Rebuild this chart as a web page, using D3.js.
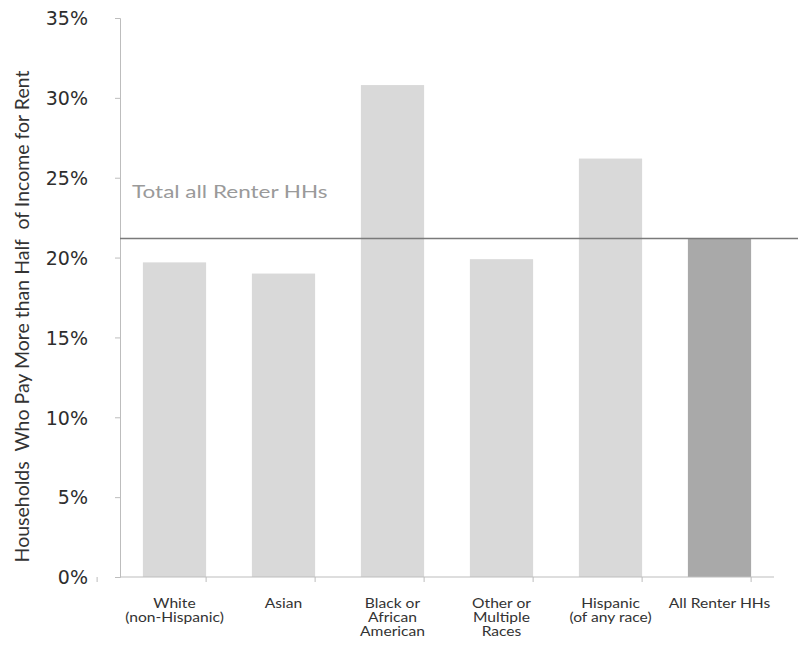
<!DOCTYPE html>
<html>
<head>
<meta charset="utf-8">
<script src="https://cdn.jsdelivr.net/npm/d3@7"></script>
<style>
  html, body { margin: 0; padding: 0; background: #fff; }
  svg { display: block; }
</style>
</head>
<body>
<svg id="chart" width="798" height="645"></svg>
<script>
// Share of renter households paying more than half of income for rent
const categories = [
  ["White", "(non-Hispanic)"],
  ["Asian"],
  ["Black or", "African", "American"],
  ["Other or", "Multiple", "Races"],
  ["Hispanic", "(of any race)"],
  ["All Renter HHs"]
];
const values = [0.197, 0.190, 0.308, 0.199, 0.262, 0.212];
const totalAllRenters = 0.212;
const yTicks = [0, 0.05, 0.10, 0.15, 0.20, 0.25, 0.30, 0.35];

const svg = d3.select("#chart");
const margin = { left: 120, right: 24, top: 18, bottom: 68 };
const W = 798, H = 645;
const stretch = 1.25; // wide lettering

const keys = categories.map((c, i) => i);
const x = d3.scaleBand()
  .domain(keys)
  .range([margin.left, W - margin.right])
  .paddingInner(0.42)
  .paddingOuter(0.21);

const y = d3.scaleLinear()
  .domain([0, 0.35])
  .range([H - margin.bottom, margin.top]);

// Bars
svg.append("g")
  .selectAll("rect")
  .data(values)
  .join("rect")
  .attr("x", (d, i) => x(i))
  .attr("y", d => y(d))
  .attr("width", x.bandwidth())
  .attr("height", d => y(0) - y(d))
  .attr("fill", (d, i) => i === values.length - 1 ? "#a9a9a9" : "#d9d9d9");

// Y axis
const yAxis = svg.append("g")
  .attr("transform", `translate(${margin.left},0)`)
  .call(d3.axisLeft(y).tickValues(yTicks).tickFormat(d3.format(".0%")).tickSize(5).tickPadding(27));
yAxis.select(".domain").attr("stroke", "#bdbdbd");
yAxis.selectAll(".tick line").attr("stroke", "#bdbdbd");
yAxis.selectAll(".tick text")
  .attr("fill", "#2e2e2e")
  .attr("dy", "0.36em")
  .style("font-family", "'DejaVu Sans', sans-serif")
  .style("font-size", "19px");

// X axis with band boundary ticks
const xAxisG = svg.append("g")
  .attr("transform", `translate(0,${y(0)})`);
xAxisG.append("line")
  .attr("x1", margin.left).attr("x2", W - margin.right)
  .attr("y1", 0).attr("y2", 0)
  .attr("stroke", "#bdbdbd");
const step = x.step();
const bounds = d3.range(keys.length + 1).map(i => x(0) - x.paddingOuter() * step - x.paddingInner() * step / 2 + i * step);
xAxisG.selectAll("line.bt")
  .data(bounds)
  .join("line")
  .attr("class", "bt")
  .attr("x1", d => d).attr("x2", d => d)
  .attr("y1", 0).attr("y2", 5)
  .attr("stroke", "#bdbdbd");

const labels = svg.append("g")
  .selectAll("text")
  .data(categories)
  .join("text")
  .attr("transform", (d, i) => `translate(${x(i) + x.bandwidth() / 2},${y(0) + 31}) scale(${stretch},1)`)
  .attr("text-anchor", "middle")
  .attr("fill", "#333")
  .style("font-family", "Lato, sans-serif")
  .style("font-size", "12.5px");
labels.selectAll("tspan")
  .data(d => d)
  .join("tspan")
  .attr("x", 0)
  .attr("dy", (d, i) => i === 0 ? 0 : 14)
  .text(d => d);

// Reference line for all renter households
svg.append("line")
  .attr("x1", margin.left)
  .attr("x2", W)
  .attr("y1", y(totalAllRenters))
  .attr("y2", y(totalAllRenters))
  .attr("stroke", "#7a7a7a")
  .attr("stroke-width", 1.5);

svg.append("text")
  .attr("transform", `translate(${margin.left + 12},${y(totalAllRenters) - 40}) scale(${stretch},1)`)
  .attr("fill", "#9a9a9a")
  .style("font-family", "Lato, sans-serif")
  .style("font-size", "18px")
  .text("Total all Renter HHs");

// Y axis title
svg.append("text")
  .attr("transform", `translate(29,${(y(0) + y(0.35)) / 2 + 19}) rotate(-90)`)
  .attr("text-anchor", "middle")
  .attr("fill", "#333")
  .style("font-family", "Lato, sans-serif")
  .style("font-size", "19.5px")
  .style("white-space", "pre")
  .text("Households  Who Pay More than Half  of Income for Rent");
</script>
</body>
</html>
